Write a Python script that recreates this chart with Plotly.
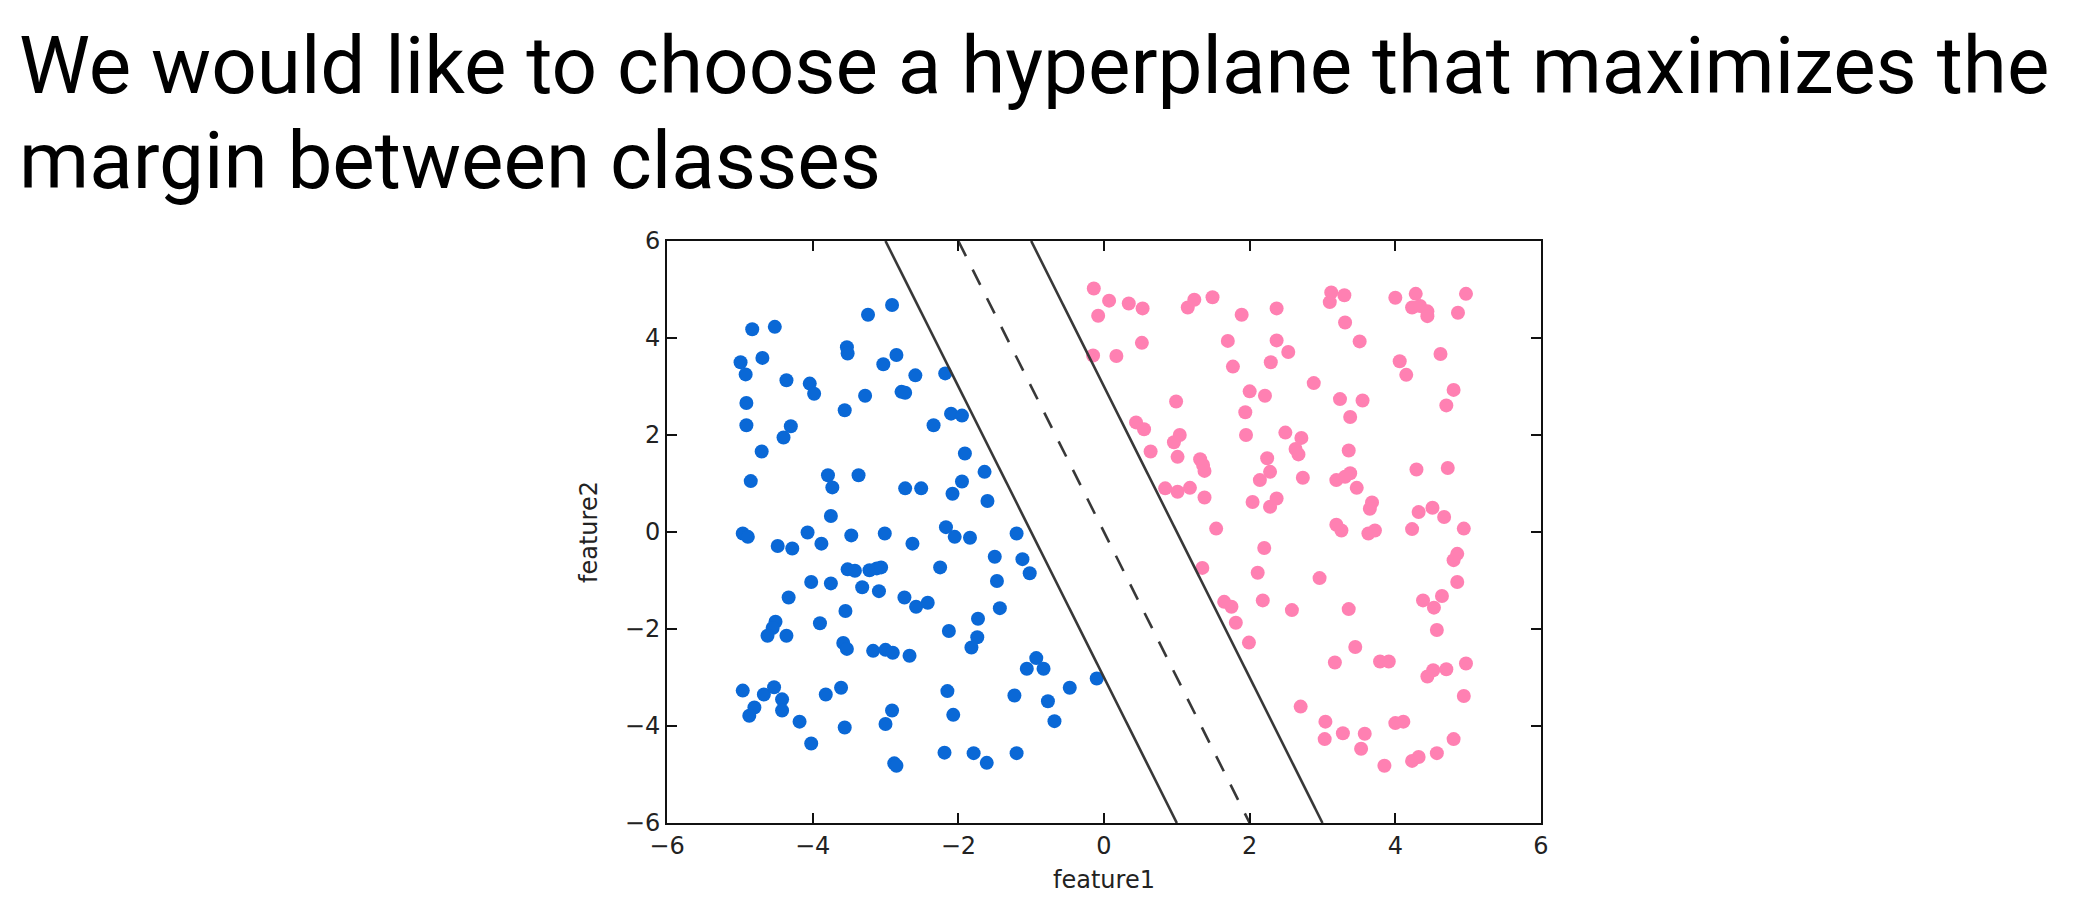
import plotly.graph_objects as go

# blue class (feature1, feature2)
blue_x = [-4.83, -4.52, -4.99, -4.92, -4.69, -4.36, -4.04, -3.98, -4.91, -4.91,
          -4.30, -4.40, -4.70, -4.85, -3.53, -3.52, -3.56, -3.28, -3.24, -2.91,
          -3.03, -2.85, -2.59, -2.78, -2.73, -2.18, -2.34, -2.10, -1.95, -1.91,
          -1.64, -1.95, -2.08, -1.60, -3.79, -3.73, -3.37, -2.73, -2.51, -3.75,
          -4.96, -4.89, -4.48, -4.28, -4.07, -3.88, -3.47, -3.01, -2.63, -2.17,
          -2.05, -1.84, -1.50, -1.20, -1.12, -1.02, -3.52, -3.42, -3.22, -3.12,
          -3.06, -2.25, -4.02, -3.75, -3.32, -3.09, -4.33, -2.74, -2.58, -2.42,
          -1.47, -1.43, -3.55, -4.51, -4.55, -4.62, -4.36, -3.90, -3.58, -3.53,
          -3.17, -3.00, -2.90, -2.67, -2.13, -1.73, -1.74, -1.82, -0.93, -1.06,
          -0.83, -0.47, -0.10, -4.96, -4.67, -4.53, -4.42, -4.42, -4.80, -4.87,
          -4.18, -4.02, -3.82, -3.61, -3.56, -2.91, -3.00, -2.88, -2.85, -2.15,
          -2.07, -2.19, -1.79, -1.61, -1.20, -1.23, -0.77, -0.68]
blue_y = [4.18, 4.23, 3.50, 3.25, 3.59, 3.13, 3.06, 2.85, 2.66, 2.20,
          2.18, 1.95, 1.66, 1.05, 3.81, 3.68, 2.51, 2.81, 4.48, 4.68,
          3.46, 3.65, 3.23, 2.89, 2.87, 3.27, 2.20, 2.44, 2.40, 1.62,
          1.24, 1.04, 0.79, 0.64, 1.17, 0.92, 1.17, 0.90, 0.90, 0.33,
          -0.03, -0.10, -0.29, -0.34, -0.01, -0.24, -0.07, -0.03, -0.24, 0.10,
          -0.10, -0.12, -0.51, -0.03, -0.56, -0.85, -0.77, -0.80, -0.79, -0.75,
          -0.73, -0.73, -1.03, -1.06, -1.14, -1.22, -1.35, -1.35, -1.54, -1.46,
          -1.01, -1.57, -1.63, -1.85, -1.98, -2.14, -2.14, -1.88, -2.29, -2.41,
          -2.45, -2.43, -2.49, -2.55, -2.04, -1.79, -2.17, -2.38, -2.60, -2.82,
          -2.82, -3.21, -3.02, -3.27, -3.35, -3.20, -3.45, -3.68, -3.62, -3.79,
          -3.91, -4.36, -3.35, -3.21, -4.03, -3.68, -3.96, -4.77, -4.82, -3.28,
          -3.77, -4.55, -4.56, -4.76, -4.56, -3.37, -3.49, -3.90]

# pink class
pink_x = [-0.14, 0.07, -0.08, 0.34, 0.53, 0.52, -0.15, 0.17, 1.15, 1.24,
          1.49, 1.89, 2.37, 1.70, 2.37, 2.53, 1.77, 2.29, 3.12, 3.10,
          3.30, 3.31, 3.51, 4.00, 4.28, 4.23, 4.34, 4.44, 4.44, 4.97,
          4.86, 4.62, 4.06, 4.15, 2.88, 2.00, 2.21, 0.99, 1.94, 3.24,
          3.55, 3.38, 4.80, 4.70, 0.44, 0.55, 1.04, 0.96, 0.64, 1.01,
          1.32, 1.36, 1.38, 1.95, 2.49, 2.71, 2.63, 2.67, 2.24, 2.28,
          2.14, 2.73, 3.36, 3.38, 3.19, 3.31, 3.47, 4.29, 4.72, 0.84,
          1.01, 1.18, 1.38, 2.04, 2.28, 2.37, 3.68, 3.65, 4.32, 4.51,
          4.67, 1.54, 3.19, 3.26, 3.63, 3.72, 4.23, 4.94,
          2.20, 1.35, 2.11, 2.96, 4.85, 4.80, 4.85, 1.65, 1.75, 2.18,
          2.58, 3.36, 1.81, 1.99, 4.38, 4.53, 4.64, 4.57, 3.45, 3.17,
          3.79, 3.91, 4.44, 4.52, 4.70, 4.97, 4.94, 2.70, 3.04, 3.03,
          3.28, 3.58, 3.53, 4.00, 4.11, 3.85, 4.23, 4.32, 4.57, 4.80]
pink_y = [5.02, 4.77, 4.46, 4.71, 4.61, 3.90, 3.64, 3.63, 4.63, 4.79,
          4.84, 4.48, 4.61, 3.94, 3.95, 3.71, 3.41, 3.50, 4.94, 4.74,
          4.88, 4.32, 3.93, 4.83, 4.91, 4.63, 4.66, 4.55, 4.45, 4.91,
          4.52, 3.67, 3.52, 3.24, 3.07, 2.90, 2.81, 2.69, 2.47, 2.74,
          2.71, 2.37, 2.93, 2.61, 2.26, 2.12, 2.00, 1.85, 1.66, 1.55,
          1.50, 1.38, 1.26, 2.00, 2.05, 1.94, 1.71, 1.60, 1.52, 1.24,
          1.07, 1.12, 1.68, 1.21, 1.07, 1.14, 0.91, 1.29, 1.32, 0.90,
          0.83, 0.91, 0.71, 0.62, 0.52, 0.69, 0.61, 0.48, 0.41, 0.50,
          0.31, 0.07, 0.15, 0.03, -0.03, 0.03, 0.06, 0.07,
          -0.33, -0.74, -0.84, -0.95, -0.45, -0.58, -1.03, -1.44, -1.54, -1.41,
          -1.61, -1.59, -1.87, -2.28, -1.41, -1.56, -1.32, -2.02, -2.37, -2.69,
          -2.67, -2.67, -2.98, -2.85, -2.83, -2.71, -3.38, -3.60, -3.91, -4.27,
          -4.15, -4.16, -4.47, -3.94, -3.91, -4.82, -4.72, -4.64, -4.56, -4.27]

# separating hyperplane and margins: feature2 = slope * feature1 + offset
line_y = [6, -6]
slope = -3
offsets = {"lower": -3, "centre": 0, "upper": 3}

x_ticks = [-6, -4, -2, 0, 2, 4, 6]
y_ticks = [-6, -4, -2, 0, 2, 4, 6]

fig = go.Figure()

fig.add_trace(go.Scatter(x=blue_x, y=blue_y, mode="markers",
                         marker=dict(color="#0a68d6", size=14, line=dict(width=0))))
fig.add_trace(go.Scatter(x=pink_x, y=pink_y, mode="markers",
                         marker=dict(color="#ff80b2", size=14, line=dict(width=0))))

for name, b in offsets.items():
    xs = [(y - b) / slope for y in line_y]
    fig.add_trace(go.Scatter(
        x=xs, y=line_y, mode="lines",
        line=dict(color="#383838", width=2.6,
                  dash="17px,15px" if name == "centre" else "solid")))

axis_style = dict(
    showgrid=False, zeroline=False,
    showline=True, linecolor="#111111", linewidth=2, mirror="ticks",
    ticks="inside", ticklen=10, tickwidth=1.5, tickcolor="#111111",
    tickfont=dict(family="DejaVu Sans", size=24, color="#222222"),
    title_font=dict(family="DejaVu Sans", size=24, color="#222222"),
)

fig.update_xaxes(range=[-6, 6], tickvals=x_ticks,
                 ticktext=[str(t).replace("-", "\u2212") for t in x_ticks],
                 title_text="feature1", title_standoff=12, **axis_style)
fig.update_yaxes(range=[-6, 6], tickvals=y_ticks,
                 ticktext=[str(t).replace("-", "\u2212") for t in y_ticks],
                 title_text="feature2", title_standoff=20, **axis_style)

# page has an 8px body margin, so the figure is drawn 8px in from the corner
title_lines = ["We would like to choose a hyperplane that maximizes the",
               "margin between classes"]
for i, line in enumerate(title_lines):
    fig.add_annotation(
        text=line, xref="paper", yref="paper",
        x=(16 - 666.7) / 874.3, y=(822.7 - (66 + 95 * i)) / 582,
        xanchor="left", yanchor="middle", showarrow=False,
        font=dict(family="Roboto", size=80, color="#000000"))

fig.update_layout(
    width=2090, height=916,
    margin=dict(l=659, r=557, t=233, b=101),
    showlegend=False,
    plot_bgcolor="white", paper_bgcolor="white",
)

fig.write_html("out.html")
